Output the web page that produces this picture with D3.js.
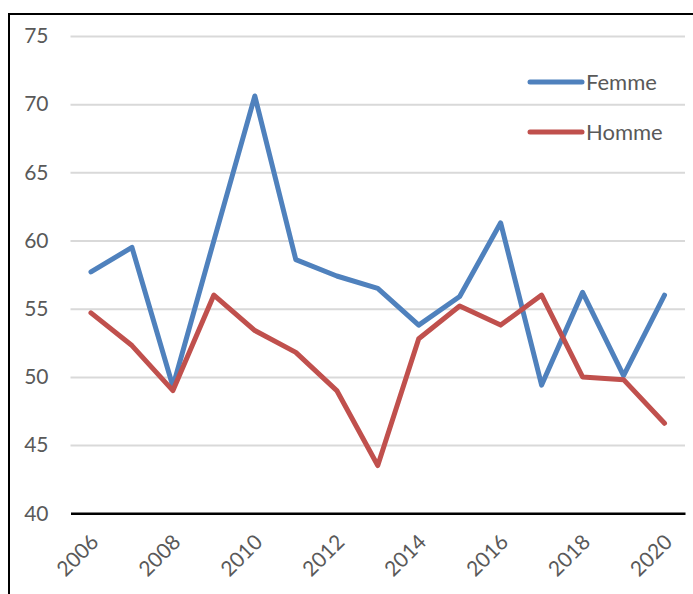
<!DOCTYPE html>
<html>
<head>
<meta charset="utf-8">
<script src="https://cdn.jsdelivr.net/npm/d3@7"></script>
<style>
  body { margin: 0; background: #fff; }
  .tick text { font-family: Lato, "Open Sans", sans-serif; fill: #595959; }
</style>
</head>
<body>
<div id="canvas"></div>
<script>
// data
const years = [2006, 2007, 2008, 2009, 2010, 2011, 2012, 2013, 2014, 2015, 2016, 2017, 2018, 2019, 2020];
const femme = [57.7, 59.5, 49.3, 60.0, 70.6, 58.6, 57.4, 56.5, 53.8, 55.9, 61.3, 49.4, 56.2, 50.1, 56.0];
const homme = [54.7, 52.3, 49.0, 56.0, 53.4, 51.8, 49.0, 43.5, 52.8, 55.2, 53.8, 56.0, 50.0, 49.8, 46.6];
const yTicks = [40, 45, 50, 55, 60, 65, 70, 75];
const xTickYears = [2006, 2008, 2010, 2012, 2014, 2016, 2018, 2020];
const seriesNames = ['Femme', 'Homme'];

// constants
const width = 693;
const height = 594;
const plotLeft = 70.5;
const plotRight = 685;
const plotTop = 36;
const plotBottom = 513.3;
const colors = ['#4F81BD', '#C0504D'];

const svg = d3.select('#canvas')
    .append('svg').attr('width', width).attr('height', height);

// outer frame (cut off at right and bottom)
svg.append('rect')
    .attr('x', 9).attr('y', 14)
    .attr('width', 720).attr('height', 620)
    .attr('fill', 'none')
    .attr('stroke', '#000')
    .attr('stroke-width', 2);

// scales
const x = d3.scaleBand()
    .domain(years)
    .range([plotLeft, plotRight]);
const y = d3.scaleLinear()
    .domain([40, 75])
    .range([plotBottom, plotTop]);

// y axis with gridlines
const yAxis = d3.axisLeft(y)
    .tickValues(yTicks)
    .tickSize(-(plotRight - plotLeft))
    .tickPadding(22);

const gy = svg.append('g')
    .attr('transform', `translate(${plotLeft},0)`)
    .call(yAxis);
gy.select('.domain').remove();
gy.selectAll('.tick line')
    .attr('stroke', '#D9D9D9')
    .attr('stroke-width', 2)
    .filter(d => d === 40).remove();
gy.selectAll('.tick text')
    .attr('font-size', 21);

// x axis
const xAxis = d3.axisBottom(x)
    .tickValues(xTickYears)
    .tickSize(0)
    .tickPadding(0);

const gx = svg.append('g')
    .attr('transform', `translate(0,${plotBottom})`)
    .call(xAxis);
gx.select('.domain')
    .attr('stroke', '#000')
    .attr('stroke-width', 2.5);
gx.selectAll('.tick text')
    .attr('font-size', 21)
    .attr('text-anchor', 'end')
    .attr('dy', 0)
    .attr('transform', 'translate(9,30) rotate(-45)');

// lines
const line = d3.line()
    .x((d, i) => x(years[i]) + x.bandwidth() / 2)
    .y(d => y(d));

[femme, homme].forEach((values, k) => {
    svg.append('path')
        .datum(values)
        .attr('d', line)
        .attr('fill', 'none')
        .attr('stroke', colors[k])
        .attr('stroke-width', 5)
        .attr('stroke-linejoin', 'round')
        .attr('stroke-linecap', 'round');
});

// legend
const legend = svg.append('g')
    .attr('transform', 'translate(530,82)');
seriesNames.forEach((name, k) => {
    const row = legend.append('g').attr('transform', `translate(0,${k * 50})`);
    row.append('line')
        .attr('x1', 0).attr('x2', 52)
        .attr('stroke', colors[k])
        .attr('stroke-width', 5)
        .attr('stroke-linecap', 'round');
    row.append('text')
        .text(name)
        .attr('x', 56)
        .attr('dy', '0.35em')
        .attr('font-family', 'Lato, "Open Sans", sans-serif')
        .attr('font-size', 22)
        .attr('fill', '#595959');
});
</script>
</body>
</html>
